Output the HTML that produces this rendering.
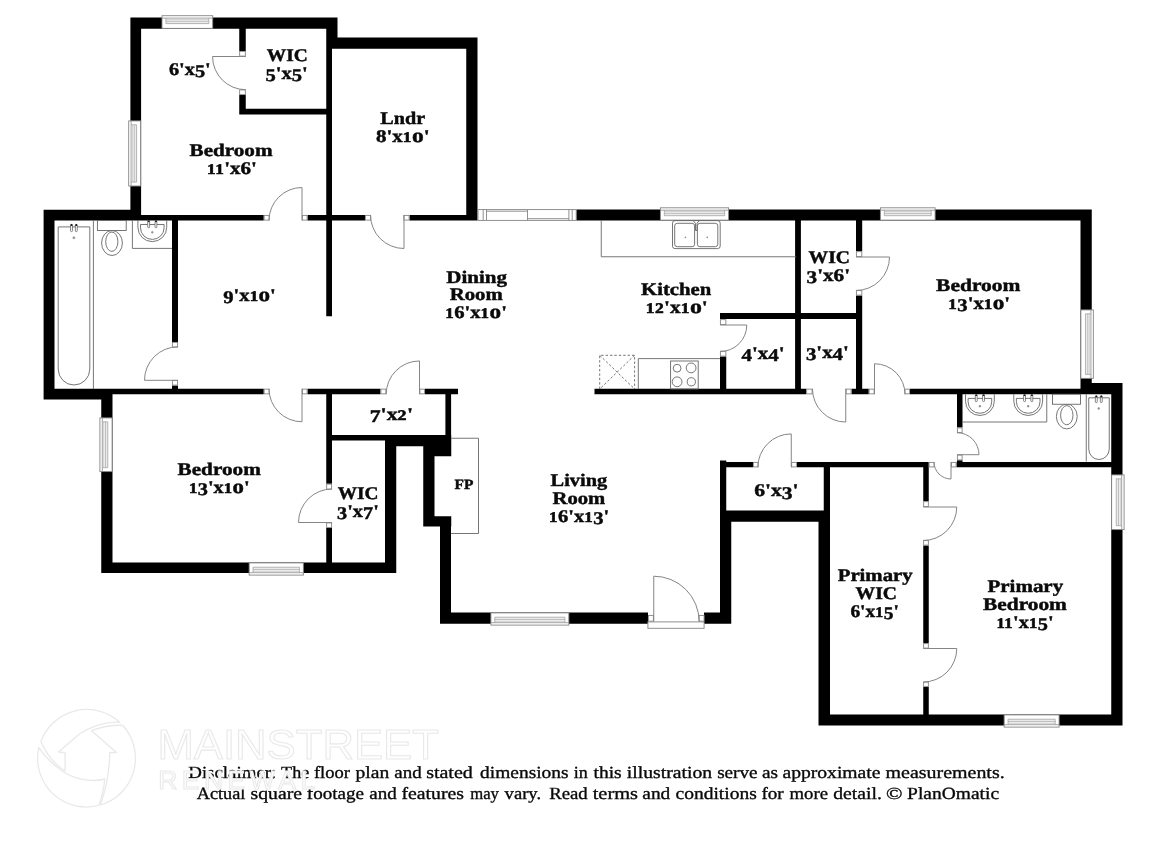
<!DOCTYPE html>
<html><head><meta charset="utf-8"><title>Floor plan</title>
<style>html,body{margin:0;padding:0;background:#fff}svg{display:block;will-change:transform}#labels text,#disc text{font-family:"Liberation Serif",serif;fill:#0a0a0a;text-rendering:geometricPrecision}#disc text{stroke:#0a0a0a;stroke-width:.35px}#labels text{stroke:#0a0a0a;stroke-width:.45px;stroke-linejoin:round}#labels .s{stroke-width:.6px;letter-spacing:.4px}#wm text{font-family:"Liberation Sans",sans-serif}</style>
</head><body>
<svg width="1161" height="844" viewBox="0 0 1161 844">
<rect width="1161" height="844" fill="#fff"/>
<g id="disc" opacity="0.999"><text x="188.26" y="777.65" font-size="17" textLength="88.05" lengthAdjust="spacingAndGlyphs">Disclaimer:</text>
<text x="281.11" y="777.65" font-size="17" textLength="28.08" lengthAdjust="spacingAndGlyphs">The</text>
<text x="313.95" y="777.65" font-size="17" textLength="35.99" lengthAdjust="spacingAndGlyphs">floor</text>
<text x="355.57" y="777.65" font-size="17" textLength="33.68" lengthAdjust="spacingAndGlyphs">plan</text>
<text x="394.34" y="777.65" font-size="17" textLength="27.4" lengthAdjust="spacingAndGlyphs">and</text>
<text x="426.15" y="777.65" font-size="17" textLength="46.66" lengthAdjust="spacingAndGlyphs">stated</text>
<text x="480.12" y="777.65" font-size="17" textLength="88.45" lengthAdjust="spacingAndGlyphs">dimensions</text>
<text x="573.8" y="777.65" font-size="17" textLength="14.03" lengthAdjust="spacingAndGlyphs">in</text>
<text x="593.53" y="777.65" font-size="17" textLength="28.19" lengthAdjust="spacingAndGlyphs">this</text>
<text x="626.88" y="777.65" font-size="17" textLength="85.29" lengthAdjust="spacingAndGlyphs">illustration</text>
<text x="717.15" y="777.65" font-size="17" textLength="40.42" lengthAdjust="spacingAndGlyphs">serve</text>
<text x="761.93" y="777.65" font-size="17" textLength="16.03" lengthAdjust="spacingAndGlyphs">as</text>
<text x="782.5" y="777.65" font-size="17" textLength="97.96" lengthAdjust="spacingAndGlyphs">approximate</text>
<text x="885.58" y="777.65" font-size="17" textLength="119.09" lengthAdjust="spacingAndGlyphs">measurements.</text>
<text x="196.7" y="799.05" font-size="17" textLength="48.71" lengthAdjust="spacingAndGlyphs">Actual</text>
<text x="250.54" y="799.05" font-size="17" textLength="51.49" lengthAdjust="spacingAndGlyphs">square</text>
<text x="306.89" y="799.05" font-size="17" textLength="57.21" lengthAdjust="spacingAndGlyphs">footage</text>
<text x="369.36" y="799.05" font-size="17" textLength="27.44" lengthAdjust="spacingAndGlyphs">and</text>
<text x="401.44" y="799.05" font-size="17" textLength="62.52" lengthAdjust="spacingAndGlyphs">features</text>
<text x="470.23" y="799.05" font-size="17" textLength="28.68" lengthAdjust="spacingAndGlyphs">may</text>
<text x="504.61" y="799.05" font-size="17" textLength="36.44" lengthAdjust="spacingAndGlyphs">vary.</text>
<text x="549.17" y="799.05" font-size="17" textLength="38.6" lengthAdjust="spacingAndGlyphs">Read</text>
<text x="592.7" y="799.05" font-size="17" textLength="45.33" lengthAdjust="spacingAndGlyphs">terms</text>
<text x="642.3" y="799.05" font-size="17" textLength="27.98" lengthAdjust="spacingAndGlyphs">and</text>
<text x="675.54" y="799.05" font-size="17" textLength="81.22" lengthAdjust="spacingAndGlyphs">conditions</text>
<text x="761.47" y="799.05" font-size="17" textLength="22.25" lengthAdjust="spacingAndGlyphs">for</text>
<text x="789.55" y="799.05" font-size="17" textLength="38.38" lengthAdjust="spacingAndGlyphs">more</text>
<text x="833.2" y="799.05" font-size="17" textLength="48.64" lengthAdjust="spacingAndGlyphs">detail.</text>
<text x="886.13" y="799.05" font-size="17" textLength="16.48" lengthAdjust="spacingAndGlyphs">©</text>
<text x="907.13" y="799.05" font-size="17" textLength="91.9" lengthAdjust="spacingAndGlyphs">PlanOmatic</text></g>
<g id="wm"><g fill="#fff" stroke="#e9e9e9" stroke-width="1.1">
<text x="157.4" y="758.6" font-size="43" textLength="281.5" lengthAdjust="spacingAndGlyphs">MAINSTREET</text>
<text x="158.2" y="789.3" font-size="26.5" textLength="157" lengthAdjust="spacing">RENEWAL</text>
</g>
<g fill="none" stroke="#e9e9e9" stroke-width="1.3" stroke-linejoin="round">
<path d="M40.9 741.7A48.7 48.7 0 0 1 119.7 722.3C105 721.5 89 727 78.3 735L58.5 752L65.1 752.7V771C55 765 47 755 40.9 741.7Z"/>
<path d="M91.5 730.7C100 727.5 112 725 122.6 725.3A48.7 48.7 0 0 1 100.3 805C106 790 109.3 770 109.8 752.7L116.4 752.5Z"/>
<path d="M38.8 747.6A48.7 48.7 0 0 0 98.8 805.4C102 797 104 788 104.7 779C92 782.5 73 780 59.3 768.8C50 762 43 754 38.8 747.6Z"/>
</g></g>
<path id="walls" fill="#000" d="M130.4 17.5H337.5V28.75H130.4ZM130.4 17.5H141.1V220.5H130.4ZM326.25 17.5H337.5V48.75H326.25ZM326.25 37.5H477.5V48.75H326.25ZM466.25 37.5H477.5V220.5H466.25ZM326.25 40H332V316.25H326.25ZM239.25 28H245.75V51H239.25ZM239.25 95H245.75V114.5H239.25ZM239.25 108.75H327V114.5H239.25ZM141 215H263.75V220.5H141ZM307.5 215H365V220.5H307.5ZM409.5 215H467V220.5H409.5ZM43.6 209.7H54.5V399.5H43.6ZM43.6 209.7H141V220.5H43.6ZM43.6 388.75H112.5V399.5H43.6ZM172 220H178V342H172ZM172 385.5H178V389H172ZM101.25 388.75H263.75V394.25H101.25ZM307.5 388.75H380.5V394.25H307.5ZM425 388.75H458V394.25H425ZM101.25 388.75H112.5V573H101.25ZM101.25 562.5H396.25V573H101.25ZM385 435H396.25V573H385ZM326.25 394H332V483.75H326.25ZM326.25 528H332V563H326.25ZM331 435H386V440.5H331ZM445.4 394H451.1V436H445.4ZM385 435H451.25V446.25H385ZM423.25 435H451.25V456.3H423.25ZM423.25 455H434.5V517H423.25ZM423.25 516.25H451.25V526.5H423.25ZM440 516.25H451V623.75H440ZM440 612.5H648V623.75H440ZM704 612.5H731.25V623.75H704ZM720 510.5H731.25V623.75H720ZM720 460.5H726.25V511H720ZM720 462H753V467.3H720ZM797 462H928.75V467.3H797ZM956.5 462H1112V467.3H956.5ZM823.75 466H830V511H823.75ZM720 510.5H830V521.75H720ZM818.5 510.5H830V725.5H818.5ZM818.5 714.5H1122.5V725.5H818.5ZM1111.25 383H1122.5V725.5H1111.25ZM1080.5 383H1122.5V394.25H1080.5ZM1080.5 209.5H1091.75V394.25H1080.5ZM576.25 209.5H1091.75V220.5H576.25ZM923.25 462H928.75V501.25H923.25ZM923.25 545.5H928.75V643.25H923.25ZM923.25 687H928.75V715H923.25ZM594.5 388.75H806.25V394.25H594.5ZM851.5 388.75H868.75V394.25H851.5ZM910 388.75H1081V394.25H910ZM795.1 220H800.9V389H795.1ZM856 220H862.2V251.25H856ZM856 295.5H862.2V389H856ZM720 313H857V318.9H720ZM720 356.5H726.25V389H720ZM957 394H962.5V427.5H957ZM957 460.3H962.5V462H957Z"/>
<g id="thin">
<rect x="239.65" y="51.4" width="5.7" height="4.7" fill="#fff" stroke="#858585" stroke-width="0.9"/>
<rect x="239.65" y="89.9" width="5.7" height="4.7" fill="#fff" stroke="#858585" stroke-width="0.9"/>
<path d="M245.75 56.5L212.55 56.5A33.2 33.2 0 0 0 245.75 89.7" fill="none" stroke="#858585" stroke-width="1"/>
<rect x="264.15" y="215.4" width="4.95" height="4.7" fill="#fff" stroke="#858585" stroke-width="0.9"/>
<rect x="302.4" y="215.4" width="4.7" height="4.7" fill="#fff" stroke="#858585" stroke-width="0.9"/>
<path d="M302 220.5L302 187.5A33 33 0 0 0 269 220.5" fill="none" stroke="#858585" stroke-width="1"/>
<rect x="365.4" y="215.4" width="5.2" height="4.7" fill="#fff" stroke="#858585" stroke-width="0.9"/>
<rect x="403.9" y="215.4" width="5.2" height="4.7" fill="#fff" stroke="#858585" stroke-width="0.9"/>
<path d="M404 215L404 248.5A33.5 33.5 0 0 1 370.5 215" fill="none" stroke="#858585" stroke-width="1"/>
<rect x="172.4" y="342.4" width="5.2" height="4.7" fill="#fff" stroke="#858585" stroke-width="0.9"/>
<rect x="172.4" y="380.4" width="5.2" height="4.7" fill="#fff" stroke="#858585" stroke-width="0.9"/>
<path d="M178 380.3L144.5 380.3A33.5 33.5 0 0 1 178 346.8" fill="none" stroke="#858585" stroke-width="1"/>
<rect x="264.15" y="389.15" width="4.95" height="4.7" fill="#fff" stroke="#858585" stroke-width="0.9"/>
<rect x="302.4" y="389.15" width="4.7" height="4.7" fill="#fff" stroke="#858585" stroke-width="0.9"/>
<path d="M302 388.75L302 421.75A33 33 0 0 1 269 388.75" fill="none" stroke="#858585" stroke-width="1"/>
<rect x="380.9" y="389.15" width="4.95" height="4.7" fill="#fff" stroke="#858585" stroke-width="0.9"/>
<rect x="419.9" y="389.15" width="4.7" height="4.7" fill="#fff" stroke="#858585" stroke-width="0.9"/>
<path d="M419.5 394.25L419.5 360.95A33.3 33.3 0 0 0 386.2 394.25" fill="none" stroke="#858585" stroke-width="1"/>
<rect x="326.65" y="484.15" width="4.95" height="4.95" fill="#fff" stroke="#858585" stroke-width="0.9"/>
<rect x="326.65" y="522.9" width="4.95" height="4.7" fill="#fff" stroke="#858585" stroke-width="0.9"/>
<path d="M332 522.5L298.5 522.5A33.5 33.5 0 0 1 332 489" fill="none" stroke="#858585" stroke-width="1"/>
<rect x="753.4" y="462.4" width="4.7" height="4.5" fill="#fff" stroke="#858585" stroke-width="0.9"/>
<rect x="791.65" y="462.4" width="4.95" height="4.5" fill="#fff" stroke="#858585" stroke-width="0.9"/>
<path d="M791.25 467.3L791.25 433.9A33.4 33.4 0 0 0 757.85 467.3" fill="none" stroke="#858585" stroke-width="1"/>
<rect x="929.15" y="462.4" width="4.95" height="4.5" fill="#fff" stroke="#858585" stroke-width="0.9"/>
<rect x="951.4" y="462.4" width="4.7" height="4.5" fill="#fff" stroke="#858585" stroke-width="0.9"/>
<path d="M951 462L951 479A17 17 0 0 1 934 462" fill="none" stroke="#858585" stroke-width="1"/>
<rect x="923.65" y="501.65" width="4.7" height="4.95" fill="#fff" stroke="#858585" stroke-width="0.9"/>
<rect x="923.65" y="540.4" width="4.7" height="4.7" fill="#fff" stroke="#858585" stroke-width="0.9"/>
<path d="M923.25 507L956.75 507A33.5 33.5 0 0 1 923.25 540.5" fill="none" stroke="#858585" stroke-width="1"/>
<rect x="923.65" y="643.65" width="4.7" height="4.45" fill="#fff" stroke="#858585" stroke-width="0.9"/>
<rect x="923.65" y="682.15" width="4.7" height="4.45" fill="#fff" stroke="#858585" stroke-width="0.9"/>
<path d="M923.25 648.5L956.75 648.5A33.5 33.5 0 0 1 923.25 682" fill="none" stroke="#858585" stroke-width="1"/>
<rect x="806.65" y="389.15" width="5.45" height="4.7" fill="#fff" stroke="#858585" stroke-width="0.9"/>
<rect x="846.15" y="389.15" width="4.95" height="4.7" fill="#fff" stroke="#858585" stroke-width="0.9"/>
<path d="M845.75 388.75L845.75 422.05A33.3 33.3 0 0 1 812.45 388.75" fill="none" stroke="#858585" stroke-width="1"/>
<rect x="869.15" y="389.15" width="4.95" height="4.7" fill="#fff" stroke="#858585" stroke-width="0.9"/>
<rect x="904.9" y="389.15" width="4.7" height="4.7" fill="#fff" stroke="#858585" stroke-width="0.9"/>
<path d="M874.5 394.25L874.5 363.75A30.5 30.5 0 0 1 905 394.25" fill="none" stroke="#858585" stroke-width="1"/>
<rect x="856.4" y="251.65" width="5.4" height="4.95" fill="#fff" stroke="#858585" stroke-width="0.9"/>
<rect x="856.4" y="290.4" width="5.4" height="4.7" fill="#fff" stroke="#858585" stroke-width="0.9"/>
<path d="M856 257L889.5 257A33.5 33.5 0 0 1 856 290.5" fill="none" stroke="#858585" stroke-width="1"/>
<rect x="720.4" y="319.65" width="5.45" height="4.95" fill="#fff" stroke="#858585" stroke-width="0.9"/>
<rect x="720.4" y="351.15" width="5.45" height="4.95" fill="#fff" stroke="#858585" stroke-width="0.9"/>
<path d="M720.3 325L746.8 325A26.5 26.5 0 0 1 720.3 351.5" fill="none" stroke="#858585" stroke-width="1"/>
<rect x="957.4" y="427.9" width="4.7" height="4.7" fill="#fff" stroke="#858585" stroke-width="0.9"/>
<rect x="957.4" y="455.1" width="4.7" height="4.8" fill="#fff" stroke="#858585" stroke-width="0.9"/>
<path d="M957 454.7L979 454.7A22 22 0 0 0 957 432.7" fill="none" stroke="#858585" stroke-width="1"/>
<rect x="162" y="15.7" width="50.7" height="12.65" fill="#fff" stroke="#858585" stroke-width="0.9"/>
<rect x="165.9" y="21.1" width="42.9" height="2.5" fill="#eaeaea"/>
<path d="M161.6 18.1H213.1" fill="none" stroke="#8c8c8c" stroke-width="0.8"/>
<path d="M165.9 19.4H208.8" fill="none" stroke="#b4b4b4" stroke-width="0.6"/>
<path d="M165.9 21.1H208.8M165.9 23.6H208.8M165.9 18.1V23.6M208.8 18.1V23.6" fill="none" stroke="#999" stroke-width="0.7"/>
<rect x="128.7" y="120.9" width="12" height="65.1" fill="#fff" stroke="#858585" stroke-width="0.9"/>
<rect x="134.1" y="124.8" width="2.5" height="57.3" fill="#eaeaea"/>
<path d="M131.1 120.5V186.4" fill="none" stroke="#8c8c8c" stroke-width="0.8"/>
<path d="M132.4 124.8V182.1" fill="none" stroke="#b4b4b4" stroke-width="0.6"/>
<path d="M134.1 124.8V182.1M136.6 124.8V182.1M131.1 124.8H136.6M131.1 182.1H136.6" fill="none" stroke="#999" stroke-width="0.7"/>
<rect x="478" y="209.6" width="98.2" height="10.8" fill="#fff" stroke="#858585" stroke-width="0.9"/>
<path d="M483.2 209.6V220.4M486.5 209.6V220.4M568.9 209.6V220.4M572.2 209.6V220.4M527.5 209.6V220.4M486.5 211.2H527.5M527.5 218.7H568.9" fill="none" stroke="#858585" stroke-width="0.9"/>
<rect x="660.4" y="207.8" width="68.2" height="12.3" fill="#fff" stroke="#858585" stroke-width="0.9"/>
<rect x="664.3" y="213.2" width="60.4" height="2.5" fill="#eaeaea"/>
<path d="M660 210.2H729" fill="none" stroke="#8c8c8c" stroke-width="0.8"/>
<path d="M664.3 211.5H724.7" fill="none" stroke="#b4b4b4" stroke-width="0.6"/>
<path d="M664.3 213.2H724.7M664.3 215.7H724.7M664.3 210.2V215.7M724.7 210.2V215.7" fill="none" stroke="#999" stroke-width="0.7"/>
<rect x="880.4" y="207.8" width="54.7" height="12.3" fill="#fff" stroke="#858585" stroke-width="0.9"/>
<rect x="884.3" y="213.2" width="46.9" height="2.5" fill="#eaeaea"/>
<path d="M880 210.2H935.5" fill="none" stroke="#8c8c8c" stroke-width="0.8"/>
<path d="M884.3 211.5H931.2" fill="none" stroke="#b4b4b4" stroke-width="0.6"/>
<path d="M884.3 213.2H931.2M884.3 215.7H931.2M884.3 210.2V215.7M931.2 210.2V215.7" fill="none" stroke="#999" stroke-width="0.7"/>
<rect x="1080.9" y="309.9" width="12.45" height="68.45" fill="#fff" stroke="#858585" stroke-width="0.9"/>
<rect x="1085.45" y="313.8" width="2.5" height="60.65" fill="#eaeaea"/>
<path d="M1090.95 309.5V378.75" fill="none" stroke="#8c8c8c" stroke-width="0.8"/>
<path d="M1089.65 313.8V374.45" fill="none" stroke="#b4b4b4" stroke-width="0.6"/>
<path d="M1087.95 313.8V374.45M1085.45 313.8V374.45M1090.95 313.8H1085.45M1090.95 374.45H1085.45" fill="none" stroke="#999" stroke-width="0.7"/>
<rect x="1111.65" y="474.9" width="12.45" height="54.7" fill="#fff" stroke="#858585" stroke-width="0.9"/>
<rect x="1116.2" y="478.8" width="2.5" height="46.9" fill="#eaeaea"/>
<path d="M1121.7 474.5V530" fill="none" stroke="#8c8c8c" stroke-width="0.8"/>
<path d="M1120.4 478.8V525.7" fill="none" stroke="#b4b4b4" stroke-width="0.6"/>
<path d="M1118.7 478.8V525.7M1116.2 478.8V525.7M1121.7 478.8H1116.2M1121.7 525.7H1116.2" fill="none" stroke="#999" stroke-width="0.7"/>
<rect x="1004.15" y="714.9" width="54.95" height="12.2" fill="#fff" stroke="#858585" stroke-width="0.9"/>
<rect x="1008.05" y="719.2" width="47.15" height="2.5" fill="#eaeaea"/>
<path d="M1003.75 724.7H1059.5" fill="none" stroke="#8c8c8c" stroke-width="0.8"/>
<path d="M1008.05 723.4H1055.2" fill="none" stroke="#b4b4b4" stroke-width="0.6"/>
<path d="M1008.05 721.7H1055.2M1008.05 719.2H1055.2M1008.05 724.7V719.2M1055.2 724.7V719.2" fill="none" stroke="#999" stroke-width="0.7"/>
<rect x="490.9" y="612.9" width="77.95" height="12.2" fill="#fff" stroke="#858585" stroke-width="0.9"/>
<rect x="494.8" y="617.2" width="70.15" height="2.5" fill="#eaeaea"/>
<path d="M490.5 622.7H569.25" fill="none" stroke="#8c8c8c" stroke-width="0.8"/>
<path d="M494.8 621.4H564.95" fill="none" stroke="#b4b4b4" stroke-width="0.6"/>
<path d="M494.8 619.7H564.95M494.8 617.2H564.95M494.8 622.7V617.2M564.95 622.7V617.2" fill="none" stroke="#999" stroke-width="0.7"/>
<rect x="249.15" y="562.9" width="54.2" height="12.2" fill="#fff" stroke="#858585" stroke-width="0.9"/>
<rect x="253.05" y="567.2" width="46.4" height="2.5" fill="#eaeaea"/>
<path d="M248.75 572.7H303.75" fill="none" stroke="#8c8c8c" stroke-width="0.8"/>
<path d="M253.05 571.4H299.45" fill="none" stroke="#b4b4b4" stroke-width="0.6"/>
<path d="M253.05 569.7H299.45M253.05 567.2H299.45M253.05 572.7V567.2M299.45 572.7V567.2" fill="none" stroke="#999" stroke-width="0.7"/>
<rect x="99.9" y="417.9" width="12.2" height="53.7" fill="#fff" stroke="#858585" stroke-width="0.9"/>
<rect x="105.3" y="421.8" width="2.5" height="45.9" fill="#eaeaea"/>
<path d="M102.3 417.5V472" fill="none" stroke="#8c8c8c" stroke-width="0.8"/>
<path d="M103.6 421.8V467.7" fill="none" stroke="#b4b4b4" stroke-width="0.6"/>
<path d="M105.3 421.8V467.7M107.8 421.8V467.7M102.3 421.8H107.8M102.3 467.7H107.8" fill="none" stroke="#999" stroke-width="0.7"/>
<rect x="647.9" y="621.9" width="56.2" height="6.4" fill="#fff" stroke="#858585" stroke-width="0.9"/>
<rect x="648.4" y="615.4" width="4.95" height="5.8" fill="#fff" stroke="#858585" stroke-width="0.9"/>
<rect x="699.15" y="615.4" width="4.95" height="5.8" fill="#fff" stroke="#858585" stroke-width="0.9"/>
<path d="M653.75 621.6L653.75 576.2A45.4 45.4 0 0 1 699.15 621.6" fill="none" stroke="#858585" stroke-width="1"/>
<path d="M93.4 220.5V389" fill="none" stroke="#666" stroke-width="0.9"/>
<path d="M58.2 226.9H89.8V369A15.8 16 0 0 1 58.2 369Z" fill="none" stroke="#666" stroke-width="0.9"/>
<rect x="70.55" y="224.4" width="1.9" height="7.2" rx="0.8" fill="#fff" stroke="#666" stroke-width="0.8"/>
<rect x="70.55" y="224.1" width="1.9" height="2" rx="0.6" fill="#222"/>
<rect x="75.35" y="224.4" width="1.9" height="7.2" rx="0.8" fill="#fff" stroke="#666" stroke-width="0.8"/>
<rect x="75.35" y="224.1" width="1.9" height="2" rx="0.6" fill="#222"/>
<circle cx="73.9" cy="237.7" r="1" fill="#aaa" stroke="#666" stroke-width="0.5"/>
<ellipse cx="112" cy="243" rx="10.4" ry="12.5" fill="none" stroke="#666" stroke-width="0.9"/>
<ellipse cx="111.8" cy="241.7" rx="6.1" ry="9.7" fill="none" stroke="#666" stroke-width="0.9"/>
<rect x="97.4" y="220.5" width="28.8" height="10" fill="#fff" stroke="#666" stroke-width="0.9"/>
<path d="M132.4 220.5V248.4H172" fill="none" stroke="#666" stroke-width="0.9"/>
<path d="M137.9 220.3V227.3A14.4 14.3 0 0 0 166.7 227.3V220.3" fill="none" stroke="#666" stroke-width="0.9"/>
<path d="M140.5 224.5H164.1V227.8A11.8 11.6 0 0 1 140.5 227.8Z" fill="none" stroke="#666" stroke-width="0.9"/>
<rect x="147.7" y="221.1" width="1.9" height="6.6" rx="0.8" fill="#fff" stroke="#666" stroke-width="0.8"/>
<rect x="155" y="221.1" width="1.9" height="6.6" rx="0.8" fill="#fff" stroke="#666" stroke-width="0.8"/>
<rect x="147.7" y="220.5" width="1.9" height="1.6" fill="#222"/>
<rect x="155" y="220.5" width="1.9" height="1.6" fill="#222"/>
<circle cx="152.3" cy="232.3" r="0.9" fill="#aaa" stroke="#666" stroke-width="0.5"/>
<path d="M601.25 220.5V256.75H796.25" fill="none" stroke="#666" stroke-width="0.9"/>
<rect x="672.5" y="220.6" width="47.7" height="28" rx="2.5" fill="none" stroke="#666" stroke-width="0.9"/>
<rect x="674.7" y="223.3" width="19.9" height="23.4" rx="2.5" fill="none" stroke="#666" stroke-width="0.9"/>
<rect x="697.4" y="223.3" width="20.4" height="23.4" rx="2.5" fill="none" stroke="#666" stroke-width="0.9"/>
<circle cx="685.4" cy="237.4" r="0.8" fill="#888"/>
<circle cx="707.2" cy="237.4" r="0.8" fill="#888"/>
<path d="M693.5 221L695.5 223.3V230.5H697V223.3L699 221" fill="none" stroke="#666" stroke-width="0.9"/>
<path d="M638.3 389V358.6H720" fill="none" stroke="#666" stroke-width="0.9"/>
<rect x="670.6" y="361" width="27.6" height="28" fill="none" stroke="#666" stroke-width="0.9"/>
<circle cx="677.1" cy="368.2" r="3.9" fill="none" stroke="#666" stroke-width="0.9"/>
<circle cx="691.1" cy="367.9" r="4.9" fill="none" stroke="#666" stroke-width="0.9"/>
<circle cx="677.1" cy="381.8" r="4.9" fill="none" stroke="#666" stroke-width="0.9"/>
<circle cx="691.3" cy="381.8" r="4.1" fill="none" stroke="#666" stroke-width="0.9"/>
<path d="M599.7 389V355.3H634.6V389M599.7 355.3L634.6 389M634.6 355.3L599.7 389" fill="none" stroke="#666" stroke-width="0.9" stroke-dasharray="2.4 2"/>
<path d="M451.25 438.25H478.5V533.5H451" fill="none" stroke="#666" stroke-width="0.9"/>
<path d="M962.5 422H1046.75V394.25" fill="none" stroke="#666" stroke-width="0.9"/>
<path d="M965.5 394.2V401.2A14.4 14.3 0 0 0 994.3 401.2V394.2" fill="none" stroke="#666" stroke-width="0.9"/>
<path d="M968.1 398.4H991.7V401.7A11.8 11.6 0 0 1 968.1 401.7Z" fill="none" stroke="#666" stroke-width="0.9"/>
<rect x="975.3" y="395" width="1.9" height="6.6" rx="0.8" fill="#fff" stroke="#666" stroke-width="0.8"/>
<rect x="982.6" y="395" width="1.9" height="6.6" rx="0.8" fill="#fff" stroke="#666" stroke-width="0.8"/>
<rect x="975.3" y="394.4" width="1.9" height="1.6" fill="#222"/>
<rect x="982.6" y="394.4" width="1.9" height="1.6" fill="#222"/>
<circle cx="979.9" cy="406.2" r="0.9" fill="#aaa" stroke="#666" stroke-width="0.5"/>
<path d="M1013.8 394.2V401.2A14.4 14.3 0 0 0 1042.6 401.2V394.2" fill="none" stroke="#666" stroke-width="0.9"/>
<path d="M1016.4 398.4H1040V401.7A11.8 11.6 0 0 1 1016.4 401.7Z" fill="none" stroke="#666" stroke-width="0.9"/>
<rect x="1023.6" y="395" width="1.9" height="6.6" rx="0.8" fill="#fff" stroke="#666" stroke-width="0.8"/>
<rect x="1030.9" y="395" width="1.9" height="6.6" rx="0.8" fill="#fff" stroke="#666" stroke-width="0.8"/>
<rect x="1023.6" y="394.4" width="1.9" height="1.6" fill="#222"/>
<rect x="1030.9" y="394.4" width="1.9" height="1.6" fill="#222"/>
<circle cx="1028.2" cy="406.2" r="0.9" fill="#aaa" stroke="#666" stroke-width="0.5"/>
<ellipse cx="1066.8" cy="416.5" rx="10.4" ry="12.4" fill="none" stroke="#666" stroke-width="0.9"/>
<ellipse cx="1066.8" cy="415.2" rx="6.2" ry="9.6" fill="none" stroke="#666" stroke-width="0.9"/>
<rect x="1052.5" y="394.25" width="28" height="10" fill="#fff" stroke="#666" stroke-width="0.9"/>
<path d="M1086.25 394.25V461.5" fill="none" stroke="#666" stroke-width="0.9"/>
<path d="M1088.75 397.8H1109.25V449A10.25 10.5 0 0 1 1088.75 449Z" fill="none" stroke="#666" stroke-width="0.9"/>
<rect x="1095.35" y="395.9" width="1.9" height="6.7" rx="0.8" fill="#fff" stroke="#666" stroke-width="0.8"/>
<rect x="1095.35" y="395.6" width="1.9" height="2" rx="0.6" fill="#222"/>
<rect x="1100.35" y="395.9" width="1.9" height="6.7" rx="0.8" fill="#fff" stroke="#666" stroke-width="0.8"/>
<rect x="1100.35" y="395.6" width="1.9" height="2" rx="0.6" fill="#222"/>
<circle cx="1098.7" cy="408.5" r="0.9" fill="#aaa" stroke="#666" stroke-width="0.5"/>
</g>
<g id="labels" opacity="0.999">
<text x="168.96" y="74.55" font-size="17.8" textLength="41.77" lengthAdjust="spacingAndGlyphs" font-weight="bold">6'x<tspan dy="2.31">5</tspan><tspan dy="-2.31">'</tspan></text>
<text x="266.85" y="61.3" font-size="17.8" textLength="40.89" lengthAdjust="spacingAndGlyphs" font-weight="bold">WIC</text>
<text x="265.42" y="78.75" font-size="17.8" textLength="42.31" lengthAdjust="spacingAndGlyphs" font-weight="bold"><tspan dy="2.31">5</tspan><tspan dy="-2.31">'</tspan>x<tspan dy="2.31">5</tspan><tspan dy="-2.31">'</tspan></text>
<text x="189.57" y="155.8" font-size="17.8" textLength="82.99" lengthAdjust="spacingAndGlyphs" font-weight="bold">Bedroom</text>
<text x="207" y="173.55" font-size="17.8" textLength="49.86" lengthAdjust="spacingAndGlyphs" font-weight="bold"><tspan class="s" dy="0" font-size="14.6">1</tspan><tspan class="s" dy="0" font-size="14.6">1</tspan>'x6'</text>
<text x="380.36" y="124.3" font-size="17.8" textLength="44.8" lengthAdjust="spacingAndGlyphs" font-weight="bold">Lndr</text>
<text x="375.98" y="141.8" font-size="17.8" textLength="53.53" lengthAdjust="spacingAndGlyphs" font-weight="bold">8'x<tspan class="s" dy="0" font-size="14.6">1</tspan><tspan dy="0" font-size="19.94">o</tspan>'</text>
<text x="223.29" y="301.05" font-size="17.8" textLength="52.58" lengthAdjust="spacingAndGlyphs" font-weight="bold"><tspan dy="2.31">9</tspan><tspan dy="-2.31">'</tspan>x<tspan class="s" dy="0" font-size="14.6">1</tspan><tspan dy="0" font-size="19.94">o</tspan>'</text>
<text x="446.25" y="282.55" font-size="17.8" textLength="60.75" lengthAdjust="spacingAndGlyphs" font-weight="bold">Dining</text>
<text x="449.71" y="300.05" font-size="17.8" textLength="52.97" lengthAdjust="spacingAndGlyphs" font-weight="bold">Room</text>
<text x="445.31" y="318.05" font-size="17.8" textLength="61.59" lengthAdjust="spacingAndGlyphs" font-weight="bold"><tspan class="s" dy="0" font-size="14.6">1</tspan>6'x<tspan class="s" dy="0" font-size="14.6">1</tspan><tspan dy="0" font-size="19.94">o</tspan>'</text>
<text x="641.13" y="294.55" font-size="17.8" textLength="70.13" lengthAdjust="spacingAndGlyphs" font-weight="bold">Kitchen</text>
<text x="645.7" y="312.55" font-size="17.8" textLength="62.05" lengthAdjust="spacingAndGlyphs" font-weight="bold"><tspan class="s" dy="0" font-size="14.6">1</tspan><tspan class="s" dy="0" font-size="14.6">2</tspan>'x<tspan class="s" dy="0" font-size="14.6">1</tspan><tspan dy="0" font-size="19.94">o</tspan>'</text>
<text x="808.57" y="262.55" font-size="17.8" textLength="41.33" lengthAdjust="spacingAndGlyphs" font-weight="bold">WIC</text>
<text x="806.55" y="280.55" font-size="17.8" textLength="43.58" lengthAdjust="spacingAndGlyphs" font-weight="bold"><tspan dy="2.31">3</tspan><tspan dy="-2.31">'</tspan>x6'</text>
<text x="741.49" y="359.05" font-size="17.8" textLength="43.03" lengthAdjust="spacingAndGlyphs" font-weight="bold"><tspan dy="2.31">4</tspan><tspan dy="-2.31">'</tspan>x<tspan dy="2.31">4</tspan><tspan dy="-2.31">'</tspan></text>
<text x="805.93" y="357.55" font-size="17.8" textLength="42.97" lengthAdjust="spacingAndGlyphs" font-weight="bold"><tspan dy="2.31">3</tspan><tspan dy="-2.31">'</tspan>x<tspan dy="2.31">4</tspan><tspan dy="-2.31">'</tspan></text>
<text x="936.11" y="291.3" font-size="17.8" textLength="84.39" lengthAdjust="spacingAndGlyphs" font-weight="bold">Bedroom</text>
<text x="948.38" y="308.8" font-size="17.8" textLength="61.71" lengthAdjust="spacingAndGlyphs" font-weight="bold"><tspan class="s" dy="0" font-size="14.6">1</tspan><tspan dy="2.31">3</tspan><tspan dy="-2.31">'</tspan>x<tspan class="s" dy="0" font-size="14.6">1</tspan><tspan dy="0" font-size="19.94">o</tspan>'</text>
<text x="369.69" y="420.05" font-size="17.8" textLength="43.46" lengthAdjust="spacingAndGlyphs" font-weight="bold"><tspan dy="2.31">7</tspan><tspan dy="-2.31">'</tspan>x<tspan class="s" dy="0" font-size="14.6">2</tspan>'</text>
<text x="337.85" y="499.3" font-size="17.8" textLength="40.66" lengthAdjust="spacingAndGlyphs" font-weight="bold">WIC</text>
<text x="337.09" y="517.05" font-size="17.8" textLength="41.73" lengthAdjust="spacingAndGlyphs" font-weight="bold"><tspan dy="2.31">3</tspan><tspan dy="-2.31">'</tspan>x<tspan dy="2.31">7</tspan><tspan dy="-2.31">'</tspan></text>
<text x="454.53" y="488.8" font-size="14" textLength="18.82" lengthAdjust="spacingAndGlyphs" font-weight="bold">FP</text>
<text x="177.57" y="475.05" font-size="17.8" textLength="83.27" lengthAdjust="spacingAndGlyphs" font-weight="bold">Bedroom</text>
<text x="189" y="492.55" font-size="17.8" textLength="60.56" lengthAdjust="spacingAndGlyphs" font-weight="bold"><tspan class="s" dy="0" font-size="14.6">1</tspan><tspan dy="2.31">3</tspan><tspan dy="-2.31">'</tspan>x<tspan class="s" dy="0" font-size="14.6">1</tspan><tspan dy="0" font-size="19.94">o</tspan>'</text>
<text x="550.61" y="486.3" font-size="17.8" textLength="56.62" lengthAdjust="spacingAndGlyphs" font-weight="bold">Living</text>
<text x="552.53" y="503.8" font-size="17.8" textLength="52.73" lengthAdjust="spacingAndGlyphs" font-weight="bold">Room</text>
<text x="549" y="521.55" font-size="17.8" textLength="60.23" lengthAdjust="spacingAndGlyphs" font-weight="bold"><tspan class="s" dy="0" font-size="14.6">1</tspan>6'x<tspan class="s" dy="0" font-size="14.6">1</tspan><tspan dy="2.31">3</tspan><tspan dy="-2.31">'</tspan></text>
<text x="754.18" y="496.3" font-size="17.8" textLength="44.42" lengthAdjust="spacingAndGlyphs" font-weight="bold">6'x<tspan dy="2.31">3</tspan><tspan dy="-2.31">'</tspan></text>
<text x="837.72" y="581.05" font-size="17.8" textLength="74.88" lengthAdjust="spacingAndGlyphs" font-weight="bold">Primary</text>
<text x="855.57" y="598.8" font-size="17.8" textLength="41.33" lengthAdjust="spacingAndGlyphs" font-weight="bold">WIC</text>
<text x="850.42" y="616.55" font-size="17.8" textLength="48.4" lengthAdjust="spacingAndGlyphs" font-weight="bold">6'x<tspan class="s" dy="0" font-size="14.6">1</tspan><tspan dy="2.31">5</tspan><tspan dy="-2.31">'</tspan></text>
<text x="987.53" y="591.8" font-size="17.8" textLength="75.63" lengthAdjust="spacingAndGlyphs" font-weight="bold">Primary</text>
<text x="983.12" y="609.55" font-size="17.8" textLength="83.77" lengthAdjust="spacingAndGlyphs" font-weight="bold">Bedroom</text>
<text x="996.45" y="627.55" font-size="17.8" textLength="57.12" lengthAdjust="spacingAndGlyphs" font-weight="bold"><tspan class="s" dy="0" font-size="14.6">1</tspan><tspan class="s" dy="0" font-size="14.6">1</tspan>'x<tspan class="s" dy="0" font-size="14.6">1</tspan><tspan dy="2.31">5</tspan><tspan dy="-2.31">'</tspan></text>
</g>
</svg></body></html>
